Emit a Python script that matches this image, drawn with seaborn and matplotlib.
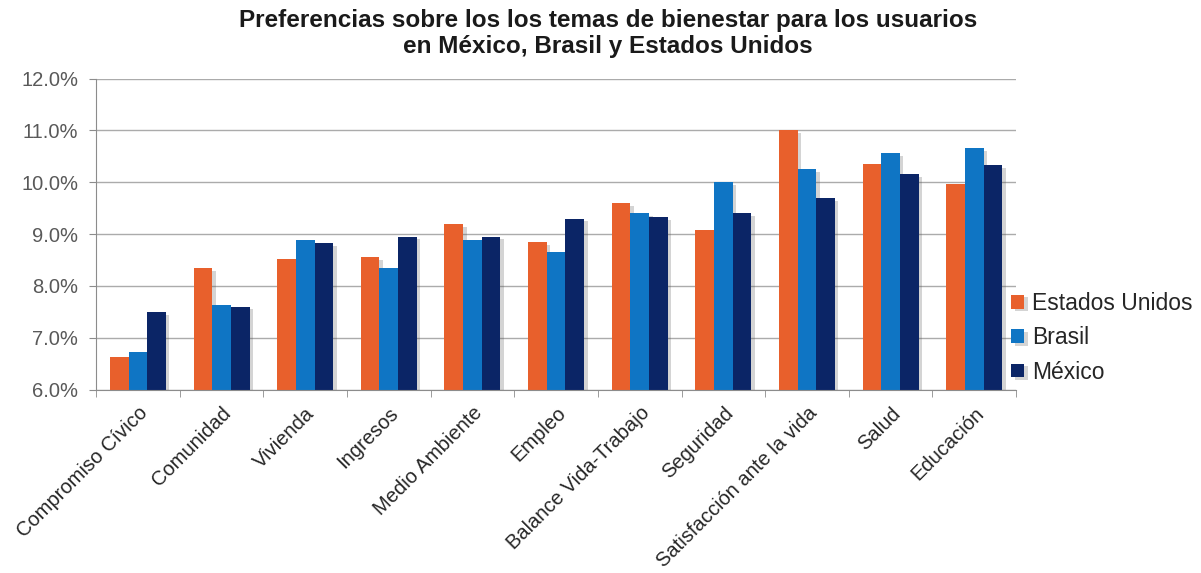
import matplotlib
matplotlib.use("Agg")
import matplotlib.pyplot as plt
import matplotlib.patheffects as pe
import seaborn as sns
import pandas as pd
import numpy as np
from matplotlib.ticker import FuncFormatter, FixedLocator

categories = ["Compromiso Cívico", "Comunidad", "Vivienda", "Ingresos", "Medio Ambiente",
              "Empleo", "Balance Vida-Trabajo", "Seguridad", "Satisfacción ante la vida",
              "Salud", "Educación"]
series = ["Estados Unidos", "Brasil", "México"]
estados_unidos = [6.62, 8.35, 8.51, 8.55, 9.19, 8.84, 9.60, 9.07, 11.00, 10.35, 9.96]
brasil = [6.73, 7.64, 8.88, 8.35, 8.88, 8.65, 9.40, 10.00, 10.25, 10.56, 10.66]
mexico = [7.50, 7.60, 8.83, 8.95, 8.95, 9.30, 9.32, 9.40, 9.69, 10.15, 10.33]
colors = ["#E8602C", "#0F75C4", "#0B2566"]

df = pd.DataFrame({
    "cat": categories * 3,
    "serie": [series[0]] * 11 + [series[1]] * 11 + [series[2]] * 11,
    "val": estados_unidos + brasil + mexico,
})

sns.set_style("white")
plt.rcParams["font.family"] = ["Liberation Sans", "DejaVu Sans"]

fig = plt.figure(figsize=(12.01, 5.73), dpi=100)
ax = fig.add_axes([0.080, 0.32, 0.766, 0.543])

sns.barplot(data=df, x="cat", y="val", hue="serie", palette=colors,
            width=0.67, ax=ax, saturation=1, edgecolor="none", linewidth=0)

for p in ax.patches:
    p.set_path_effects([pe.SimplePatchShadow(offset=(2.5, -2), alpha=0.25, shadow_rgbFace="#555555"),
                        pe.Normal()])

ax.set_ylim(6, 12)
ax.set_xlim(-0.5, len(categories) - 0.5)
ax.set_yticks(np.arange(6, 12.01, 1))
ax.yaxis.set_major_formatter(FuncFormatter(lambda v, p: f"{v:.1f}%"))
ax.grid(axis="y", color="#ABABAB", linewidth=1)
ax.set_axisbelow(True)
for s in ["top", "right"]:
    ax.spines[s].set_visible(False)
ax.spines["left"].set_color("#8C8C8C")
ax.spines["bottom"].set_color("#8C8C8C")
ax.tick_params(axis="y", labelsize=14.5, colors="#595959", length=5, color="#8C8C8C", left=True, pad=8)
ax.set_xticks(range(len(categories)))
ax.set_xticklabels(categories, rotation=45, ha="right", rotation_mode="anchor",
                   fontsize=14.5, color="#262626")
ax.tick_params(axis="x", length=0, pad=10)
ax.xaxis.set_minor_locator(FixedLocator(np.arange(-0.5, len(categories), 1)))
ax.tick_params(axis="x", which="minor", length=5, color="#8C8C8C", bottom=True)
ax.set_xlabel("")
ax.set_ylabel("")

handles, labels = ax.get_legend_handles_labels()
ax.legend(handles, labels, loc="center left", bbox_to_anchor=(0.995, 0.167), frameon=False,
          fontsize=16.5, handlelength=0.55, handleheight=0.55, handletextpad=0.35, labelspacing=0.5,
          borderpad=0, borderaxespad=0)

fig.suptitle("Preferencias sobre los los temas de bienestar para los usuarios\nen México, Brasil y Estados Unidos",
             x=0.506, y=0.985, fontsize=17.5, fontweight="bold", color="#1a1a1a", linespacing=1.2)

fig.savefig("out.png", dpi=100)
